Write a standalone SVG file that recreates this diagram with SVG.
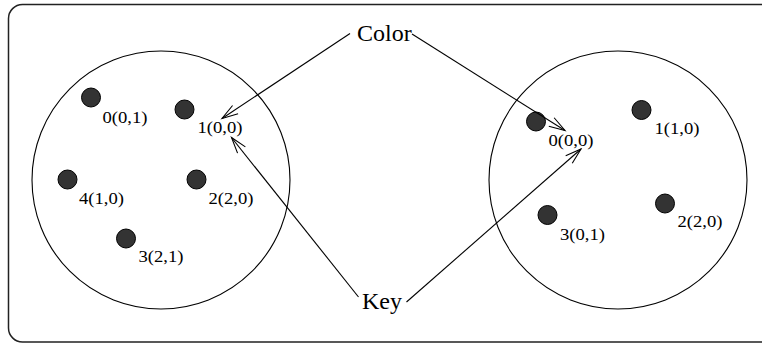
<svg xmlns="http://www.w3.org/2000/svg" width="762" height="344" viewBox="0 0 762 344">
<style>
.frame{fill:none;stroke:#222;stroke-width:1.5}
.set{fill:none;stroke:#000;stroke-width:1.1}
.dot{fill:#333;stroke:#000;stroke-width:1}
.lbl{font-family:"Liberation Serif","Times New Roman",serif;font-size:17px;fill:#000}
.big{font-family:"Liberation Serif","Times New Roman",serif;font-size:24px;fill:#000}
.conn{fill:none;stroke:#000;stroke-width:1.1}
</style>
<defs>
<marker id="open" viewBox="-17 -7 19 14" refX="0" refY="0" markerWidth="19" markerHeight="14" markerUnits="userSpaceOnUse" orient="auto">
<path d="M-16,-5 L0,0 L-16,5" fill="none" stroke="#000" stroke-width="1.1"/>
</marker>
</defs>
<rect class="frame" x="8.5" y="4.5" width="770" height="337.5" rx="14" ry="14"/>
<g id="set-left">
<circle class="set" cx="161" cy="180" r="129"/>
</g>
<g id="set-right">
<circle class="set" cx="618" cy="180" r="129"/>
</g>
<g id="l0"><ellipse class="dot" cx="91" cy="97.5" rx="9.5" ry="9.5"/><text class="lbl" x="102.5" y="122.5" textLength="45" lengthAdjust="spacingAndGlyphs">0(0,1)</text></g>
<g id="l1"><ellipse class="dot" cx="184.5" cy="109.5" rx="9.5" ry="9.5"/><text class="lbl" x="197.5" y="132.5" textLength="45" lengthAdjust="spacingAndGlyphs">1(0,0)</text></g>
<g id="l4"><ellipse class="dot" cx="67.5" cy="179.5" rx="9.5" ry="9.5"/><text class="lbl" x="79" y="204" textLength="45" lengthAdjust="spacingAndGlyphs">4(1,0)</text></g>
<g id="l2"><ellipse class="dot" cx="196.5" cy="179.5" rx="9.5" ry="9.5"/><text class="lbl" x="208.5" y="204" textLength="45" lengthAdjust="spacingAndGlyphs">2(2,0)</text></g>
<g id="l3"><ellipse class="dot" cx="126" cy="238.5" rx="9.5" ry="9.5"/><text class="lbl" x="138.5" y="261.5" textLength="45" lengthAdjust="spacingAndGlyphs">3(2,1)</text></g>
<g id="r0"><ellipse class="dot" cx="536" cy="121.5" rx="9.5" ry="9.5"/><text class="lbl" x="548.5" y="146" textLength="45" lengthAdjust="spacingAndGlyphs">0(0,0)</text></g>
<g id="r1"><ellipse class="dot" cx="641.5" cy="110" rx="9.5" ry="9.5"/><text class="lbl" x="654.5" y="133.5" textLength="45" lengthAdjust="spacingAndGlyphs">1(1,0)</text></g>
<g id="r3"><ellipse class="dot" cx="547.5" cy="215" rx="9.5" ry="9.5"/><text class="lbl" x="560" y="239.5" textLength="45" lengthAdjust="spacingAndGlyphs">3(0,1)</text></g>
<g id="r2"><ellipse class="dot" cx="665" cy="203.5" rx="9.5" ry="9.5"/><text class="lbl" x="677.5" y="227" textLength="45" lengthAdjust="spacingAndGlyphs">2(2,0)</text></g>
<g id="color"><text class="big" x="357" y="41">Color</text></g>
<g id="key"><text class="big" x="362" y="309">Key</text></g>
<g id="connectors">
<line class="conn" x1="350" y1="33.5" x2="222" y2="118.5" marker-end="url(#open)"/>
<line class="conn" x1="412" y1="34" x2="565" y2="130.5" marker-end="url(#open)"/>
<line class="conn" x1="358.5" y1="297" x2="231.5" y2="137.5" marker-end="url(#open)"/>
<line class="conn" x1="406.5" y1="302" x2="581" y2="149" marker-end="url(#open)"/>
</g>
</svg>
